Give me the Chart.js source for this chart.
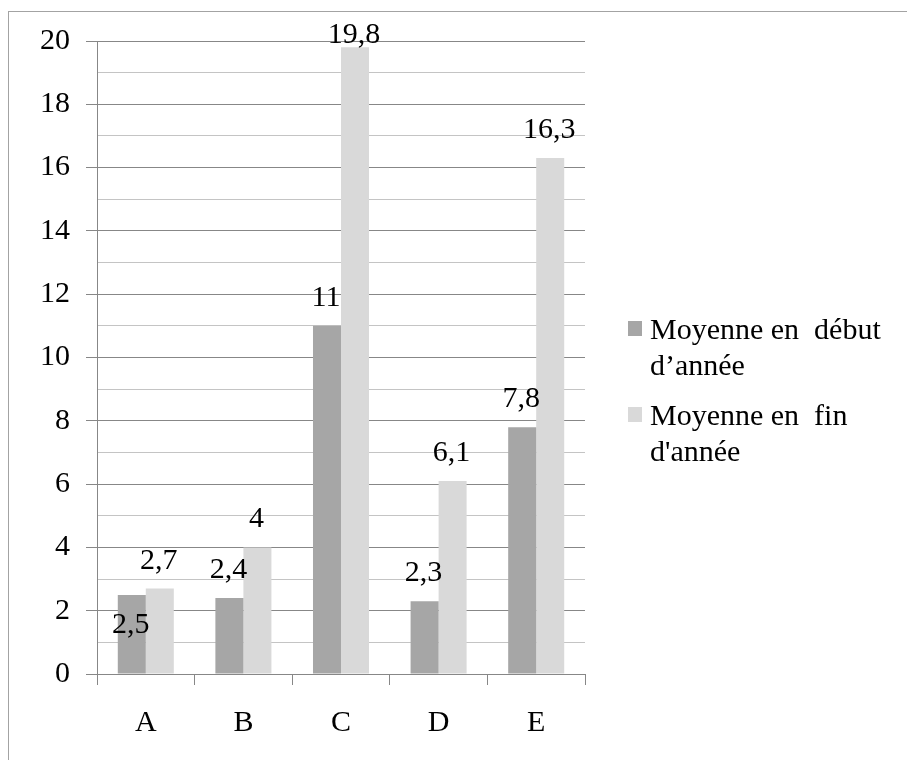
<!DOCTYPE html>
<html><head><meta charset="utf-8">
<script src="https://cdn.jsdelivr.net/npm/chart.js@4"></script>
<style>
html,body{margin:0;padding:0;background:#fff;overflow:hidden}
#frame{position:absolute;left:8px;top:11px;width:1000px;height:1000px;border-top:1px solid #a3a3a3;border-left:1px solid #a3a3a3;box-sizing:border-box}
#wrap{position:absolute;left:0;top:0;width:907px;height:760px}
</style></head><body>
<div id="frame"></div>
<div id="wrap"><canvas id="c" width="907" height="760"></canvas></div>
<script>
// ---- data ----
const categories = ['A', 'B', 'C', 'D', 'E'];
const debutValues = [2.5, 2.4, 11, 2.3, 7.8];
const finValues = [2.7, 4, 19.8, 6.1, 16.3];
const seriesNames = ['Moyenne en début d’année', "Moyenne en fin d'année"];
const legendLines = [['Moyenne en  début', 'd’année'], ['Moyenne en  fin', "d'année"]];
const yMin = 0;
const yMax = 20;

// ---- style ----
const FONT = 'Liberation Serif, Times New Roman, serif';
const FSIZE = 30;
const DARK = '#a6a6a6';
const LIGHT = '#d9d9d9';
const MAJOR = '#878787';
const MINOR = '#c4c4c4';

const fmt = v => String(v).replace('.', ',');

const labelPlugin = {
  id: 'barLabels',
  afterDatasetsDraw(chart, args, opts) {
    const ctx = chart.ctx;
    ctx.save();
    ctx.font = FSIZE + 'px ' + FONT;
    ctx.fillStyle = '#000';
    ctx.textAlign = 'center';
    ctx.textBaseline = 'alphabetic';
    chart.data.datasets.forEach((ds, di) => {
      const meta = chart.getDatasetMeta(di);
      meta.data.forEach((bar, i) => {
        const inside = (opts.inside || []).includes(di + '-' + i);
        let base = inside ? bar.y + 38 : bar.y - 20;
        base = Math.max(base, chart.chartArea.top + 2);
        ctx.fillText(fmt(ds.data[i]), bar.x - 1, base);
      });
    });
    ctx.restore();
  }
};

const legendPlugin = {
  id: 'sideLegend',
  afterDraw(chart) {
    const ctx = chart.ctx;
    const ca = chart.chartArea;
    const boxX = ca.right + 43;
    const textX = boxX + 22;
    const lineH = 35.5;
    const entryH = 86;
    const firstBase = 339;
    ctx.save();
    ctx.font = FSIZE + 'px ' + FONT;
    ctx.textAlign = 'left';
    ctx.textBaseline = 'alphabetic';
    chart.data.datasets.forEach((ds, di) => {
      const b = firstBase + di * entryH;
      ctx.fillStyle = ds.backgroundColor;
      ctx.fillRect(boxX, b - 18, 14, 15);
      ctx.fillStyle = '#000';
      legendLines[di].forEach((ln, li) => ctx.fillText(ln, textX, b + li * lineH));
    });
    ctx.restore();
  }
};

new Chart(document.getElementById('c'), {
  type: 'bar',
  data: {
    labels: categories,
    datasets: [
      { label: seriesNames[0], data: debutValues, backgroundColor: DARK, borderWidth: 0,
        categoryPercentage: 0.574, barPercentage: 1 },
      { label: seriesNames[1], data: finValues, backgroundColor: LIGHT, borderWidth: 0,
        categoryPercentage: 0.574, barPercentage: 1 }
    ]
  },
  options: {
    responsive: false,
    animation: false,
    layout: { padding: { top: 41, right: 322, left: 0, bottom: 0 } },
    plugins: {
      legend: { display: false },
      tooltip: { enabled: false },
      barLabels: { inside: ['0-0'] }
    },
    scales: {
      x: {
        grid: { offset: true, drawOnChartArea: false, tickLength: 11, color: MAJOR },
        border: { color: MAJOR },
        ticks: { font: { family: FONT, size: FSIZE }, color: '#000', padding: 20 },
        afterFit: s => { s.height = 86; }
      },
      y: {
        min: yMin, max: yMax,
        grid: {
          tickLength: 11,
          color: c => (c.tick && c.tick.value % 2 === 0) ? MAJOR : MINOR,
          tickColor: c => (c.tick && c.tick.value % 2 === 0) ? MAJOR : 'rgba(0,0,0,0)'
        },
        border: { color: MAJOR },
        ticks: {
          stepSize: 1, autoSkip: false,
          callback: v => (v % 2 === 0 ? String(v) : ''),
          font: { family: FONT, size: FSIZE }, color: '#000', padding: 16
        },
        afterFit: s => { s.width = 97; }
      }
    }
  },
  plugins: [labelPlugin, legendPlugin]
});
</script>
</body></html>
